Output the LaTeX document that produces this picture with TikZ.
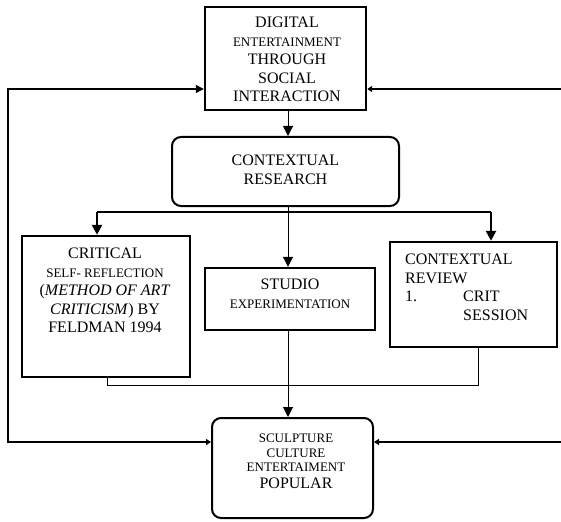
\documentclass[tikz,border=0pt]{standalone}
\usepackage{fontspec}
\setmainfont{Liberation Serif}
\usetikzlibrary{arrows.meta,calc}
\newcommand{\bigf}{\fontsize{16}{18.5}\selectfont}
\newcommand{\smf}{\fontsize{13}{18.5}\selectfont}
\tikzset{
  boxsq/.style={draw, line width=2.4pt, inner sep=0pt},
  boxrd/.style={draw, line width=2pt, rounded corners=9pt, inner sep=0pt},
  txt/.style={inner sep=0pt, align=center, font=\bigf},
  bigtip/.style={-{Triangle[length=10pt,width=10pt]}},
  smtip/.style={-{Triangle[length=5pt,width=6pt]}},
}
\begin{document}
\begin{tikzpicture}[x=1pt,y=-1pt]
\useasboundingbox (0,0) rectangle (561,521);
% boxes
\node[boxsq, minimum width=161pt, minimum height=103pt] (top) at (285.5,58.5) {};
\node[boxrd, minimum width=227pt, minimum height=69pt] (res) at (285.5,171.5) {};
\node[boxsq, minimum width=168pt, minimum height=141pt] (crit) at (106,306.5) {};
\node[boxsq, minimum width=170pt, minimum height=62pt] (stud) at (290,299) {};
\node[boxsq, minimum width=167pt, minimum height=105pt] (rev) at (473.5,294.5) {};
\node[boxrd, minimum width=161pt, minimum height=100pt] (bot) at (292.5,468) {};
% texts
\node[txt] (ttop) at (287,59.5) {DIGITAL\\{\smf ENTERTAINMENT}\\THROUGH\\SOCIAL\\INTERACTION};
\node[txt] (tres) at (285.5,170) {CONTEXTUAL\\RESEARCH};
\node[txt] (tcrit) at (105,290.5) {CRITICAL\\{\smf SELF- REFLECTION}\\(\textit{METHOD OF ART}\\\textit{CRITICISM}) BY\\FELDMAN 1994};
\node[txt] (tstud) at (290,294) {STUDIO\\{\smf EXPERIMENTATION}};
\node[txt, align=left, anchor=west] (trev) at (405,287.5) {CONTEXTUAL\\REVIEW\\\makebox[58pt][l]{1.}CRIT\\\hspace*{58pt}SESSION};
\node[txt] (tbot) at (296,461.5) {{\smf SCULPTURE}\\[-4pt]{\smf CULTURE}\\[-4pt]{\smf ENTERTAIMENT}\\[-2pt]POPULAR};
% coordinates
\coordinate (L1) at (8,89);
\coordinate (L2) at (8,442);
\coordinate (R1) at (561,89);
\coordinate (R2) at (561,442);
\coordinate (M) at (288,0);
\coordinate (B1) at (97,212);
\coordinate (B2) at (491,212);
\coordinate (C1) at (107,385);
\coordinate (C2) at (478,385);
% connectors
\draw[line width=1pt, bigtip] (top.south -| M) -- (res.north -| M);
\draw[line width=1pt, bigtip] (res.south -| M) -- (stud.north -| M);
\draw[line width=2.4pt] (B1) -- (B2);
\draw[line width=2.4pt, bigtip] (B1) -- (crit.north -| B1);
\draw[line width=2.4pt, bigtip] (B2) -- (rev.north -| B2);
\draw[line width=1pt] (crit.south -| C1) -- (C1) -- (C2) -- (rev.south -| C2);
\draw[line width=1pt, bigtip] (stud.south -| M) -- (bot.north -| M);
\draw[line width=1.3pt, {Triangle[length=5pt,width=6pt]}-{Triangle[length=8pt,width=8pt]}] (bot.west |- L2) -- (L2) -- (L1) -- (top.west |- L1);
\draw[line width=1.3pt, smtip] (R1) -- (top.east |- R1);
\draw[line width=1.3pt, smtip] (R2) -- (bot.east |- R2);
\end{tikzpicture}
\end{document}
